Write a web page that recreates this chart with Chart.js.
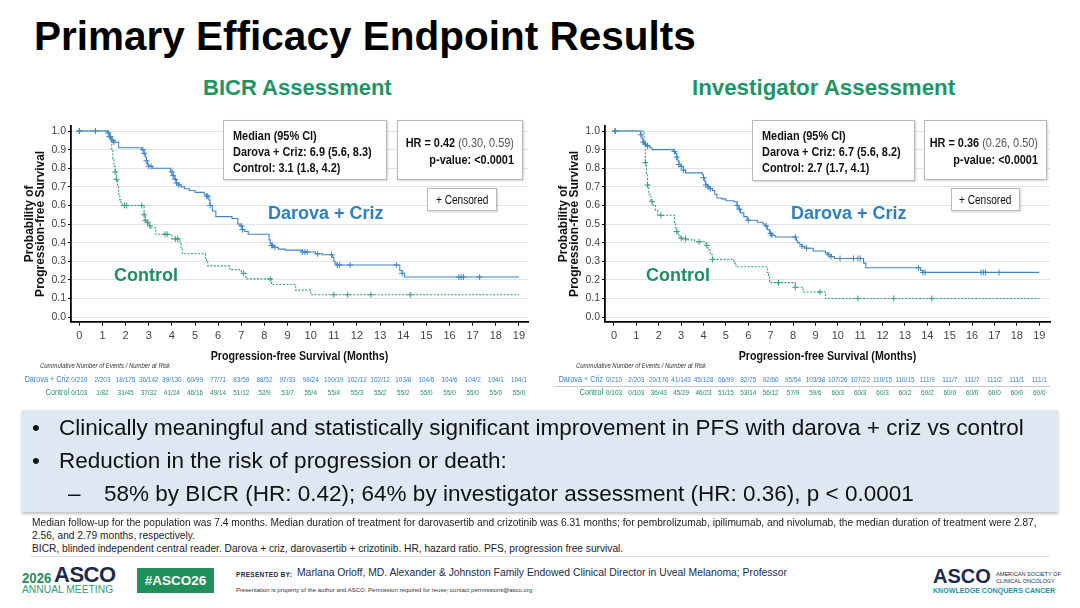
<!DOCTYPE html>
<html>
<head>
<meta charset="utf-8">
<script src="https://cdn.jsdelivr.net/npm/chart.js@4.4.1/dist/chart.umd.min.js"></script>
<style>
  html, body { margin: 0; padding: 0; }
  body { width: 1080px; height: 608px; position: relative; overflow: hidden; background: #fff; font-family: "Liberation Sans", Arial, sans-serif; }
  .abs { position: absolute; white-space: nowrap; }
  .title { left: 34px; top: 13px; font-size: 40.5px; font-weight: bold; color: #000; }
  .sub { top: 75px; font-size: 22px; font-weight: bold; color: #1f9466; }
  .box { position: absolute; background: #fff; border: 1px solid #b9b9b9; box-shadow: 1px 1px 2px rgba(0,0,0,0.18); font-size: 13px; color: #111; box-sizing: border-box; white-space: nowrap; }
  .nar { display: inline-block; transform: scaleX(0.84); transform-origin: left top; }
  .med { padding: 7px 0 0 9px; line-height: 16px; font-weight: bold; }
  .hr { line-height: 17px; font-weight: bold; }
  .hr .nar { position: absolute; right: 8px; top: 13px; text-align: right; transform-origin: right top; }
  .hr span.rg { font-weight: normal; color: #555; }
  .cens { text-align: center; line-height: 22px; font-size: 12px; }
  .cens .nar { transform-origin: center top; }
  .lblB { font-size: 18px; font-weight: bold; color: #2f7fc1; }
  .lblG { font-size: 18px; font-weight: bold; color: #1f8f5f; }
  canvas { position: absolute; }
  .bullets { left: 22px; top: 410px; width: 1036px; height: 102px; background: #dde8f3; box-shadow: 0 2px 3px rgba(0,0,0,0.25); }
  .bl { position: absolute; font-size: 22.5px; color: #111; white-space: nowrap; }
  .foot { font-size: 10.2px; color: #222; left: 32px; }
  .rule { position: absolute; left: 30px; width: 1020px; top: 556px; height: 1px; background: #ddd; }
</style>
</head>
<body>
<div class="abs title">Primary Efficacy Endpoint Results</div>
<div class="abs sub" style="left:203px">BICR Assessment</div>
<div class="abs sub" style="left:692px;font-size:22.3px">Investigator Assessment</div>

<canvas id="bicr" width="540" height="300" style="left:0;top:110px"></canvas>
<canvas id="inv" width="540" height="300" style="left:540px;top:110px"></canvas>

<!-- BICR overlays -->
<div class="box med" style="left:223px;top:120px;width:164px;height:60px"><span class="nar">Median (95% CI)<br>Darova + Criz: 6.9 (5.6, 8.3)<br>Control: 3.1 (1.8, 4.2)</span></div>
<div class="box hr" style="left:397px;top:120px;width:126px;height:60px"><span class="nar">HR = 0.42 <span class="rg">(0.30, 0.59)</span><br>p-value: &lt;0.0001</span></div>
<div class="box cens" style="left:427px;top:188px;width:70px;height:23px"><span class="nar">+ Censored</span></div>
<div class="abs lblB" style="left:268px;top:203px">Darova + Criz</div>
<div class="abs lblG" style="left:114px;top:265px">Control</div>

<!-- Investigator overlays -->
<div class="box med" style="left:752px;top:120px;width:163px;height:61px"><span class="nar">Median (95% CI)<br>Darova + Criz: 6.7 (5.6, 8.2)<br>Control: 2.7 (1.7, 4.1)</span></div>
<div class="box hr" style="left:924px;top:120px;width:123px;height:60px"><span class="nar">HR = 0.36 <span class="rg">(0.26, 0.50)</span><br>p-value: &lt;0.0001</span></div>
<div class="box cens" style="left:951px;top:188px;width:69px;height:23px"><span class="nar">+ Censored</span></div>
<div class="abs lblB" style="left:791px;top:203px">Darova + Criz</div>
<div class="abs lblG" style="left:646px;top:265px">Control</div>

<div class="abs bullets">
  <div class="bl" style="left:10px;top:5px">•</div>
  <div class="bl" style="left:37px;top:5px">Clinically meaningful and statistically significant improvement in PFS with darova + criz vs control</div>
  <div class="bl" style="left:10px;top:38px">•</div>
  <div class="bl" style="left:37px;top:38px">Reduction in the risk of progression or death:</div>
  <div class="bl" style="left:46px;top:71px">–</div>
  <div class="bl" style="left:82px;top:71px">58% by BICR (HR: 0.42); 64% by investigator assessment (HR: 0.36), p &lt; 0.0001</div>
</div>

<div class="abs foot" style="top:517px">Median follow-up for the population was 7.4 months. Median duration of treatment for darovasertib and crizotinib was 6.31 months; for pembrolizumab, ipilimumab, and nivolumab, the median duration of treatment were 2.87,</div>
<div class="abs foot" style="top:530px">2.56, and 2.79 months, respectively.</div>
<div class="abs foot" style="top:543px">BICR, blinded independent central reader. Darova + criz, darovasertib + crizotinib. HR, hazard ratio. PFS, progression free survival.</div>
<div class="rule"></div>

<!-- footer -->
<div class="abs" style="left:22px;top:569px;font-size:15px;font-weight:bold;color:#2a8c66"><span class="nar" style="transform:scaleX(0.88)">2026</span></div>
<div class="abs" style="left:54px;top:562px;font-size:22px;font-weight:bold;color:#1c2b4b;letter-spacing:-0.5px">ASCO</div>
<div class="abs" style="left:22px;top:584px;font-size:10.3px;color:#3a9a75">ANNUAL MEETING</div>
<div class="abs" style="left:137px;top:568px;width:77px;height:25px;background:#1f8f5c;color:#fff;font-weight:bold;font-size:13.5px;line-height:25px;text-align:center">#ASCO26</div>
<div class="abs" style="left:236px;top:571px;font-size:6.5px;font-weight:bold;color:#1c2b4b;letter-spacing:0.3px">PRESENTED BY:</div>
<div class="abs" style="left:297px;top:566px;font-size:11.5px;color:#1c2b4b"><span class="nar" style="transform:scaleX(0.9)">Marlana Orloff, MD. Alexander &amp; Johnston Family Endowed Clinical Director in Uveal Melanoma; Professor</span></div>
<div class="abs" style="left:236px;top:587px;font-size:6px;color:#333">Presentation is property of the author and ASCO. Permission required for reuse; contact permissions@asco.org</div>
<div class="abs" style="left:933px;top:565px;font-size:20px;font-weight:bold;color:#1c2b4b">ASCO</div>
<div class="abs" style="left:996px;top:571px;font-size:5.6px;line-height:6.5px;color:#1c2b4b">AMERICAN SOCIETY OF<br>CLINICAL ONCOLOGY</div>
<div class="abs" style="left:933px;top:587px;font-size:7.1px;font-weight:bold;color:#2b8ea8">KNOWLEDGE CONQUERS CANCER</div>

<script>
// ---- data ----
const xTicks = [0, 1, 2, 3, 4, 5, 6, 7, 8, 9, 10, 11, 12, 13, 14, 15, 16, 17, 18, 19];
const yTicks = [0, 0.1, 0.2, 0.3, 0.4, 0.5, 0.6, 0.7, 0.8, 0.9, 1.0];

// BICR assessment
const bicrDarT = [0, 1.2, 1.3, 1.4, 1.5, 1.7, 2.7, 2.8, 2.85, 2.9, 2.95, 3.0, 3.15, 3.95, 4.05, 4.1, 4.2, 4.3, 4.4, 4.55, 4.75, 5.0, 5.4, 5.5, 5.6, 5.65, 5.75, 5.9, 6.6, 6.85, 6.95, 7.05, 7.15, 7.3, 8.2, 8.25, 8.3, 8.4, 8.6, 8.9, 9.6, 10.2, 10.5, 10.95, 11.0, 11.05, 11.1, 13.85, 13.95, 14.05, 19];
const bicrDarS = [1, 0.99, 0.97, 0.95, 0.94, 0.91, 0.90, 0.88, 0.86, 0.84, 0.82, 0.81, 0.80, 0.78, 0.76, 0.74, 0.72, 0.71, 0.70, 0.69, 0.68, 0.67, 0.66, 0.65, 0.63, 0.60, 0.57, 0.54, 0.53, 0.50, 0.49, 0.47, 0.46, 0.445, 0.415, 0.395, 0.385, 0.375, 0.365, 0.36, 0.35, 0.34, 0.335, 0.32, 0.30, 0.29, 0.28, 0.25, 0.235, 0.215, 0.215];
const bicrCtlT = [0, 1.3, 1.4, 1.45, 1.5, 1.55, 1.6, 1.65, 1.7, 1.75, 1.8, 1.85, 2.8, 2.85, 2.9, 3.0, 3.1, 3.3, 4.0, 4.35, 4.4, 4.45, 5.45, 5.5, 5.55, 6.5, 7.0, 7.2, 8.3, 9.35, 10.0, 19];
const bicrCtlS = [1, 0.96, 0.90, 0.85, 0.81, 0.78, 0.74, 0.70, 0.66, 0.63, 0.61, 0.60, 0.55, 0.52, 0.51, 0.49, 0.48, 0.445, 0.42, 0.40, 0.37, 0.34, 0.31, 0.295, 0.275, 0.255, 0.235, 0.205, 0.175, 0.145, 0.12, 0.12];
const bicrDarCens = [0, 0.7, 1.25, 1.3, 1.35, 1.45, 1.5, 2.75, 2.8, 2.9, 3.0, 3.1, 4.0, 4.05, 4.15, 4.2, 4.3, 5.5, 5.55, 5.65, 7.0, 7.05, 8.3, 8.35, 8.45, 9.65, 9.75, 9.85, 10.3, 10.9, 11.15, 11.25, 11.7, 13.7, 13.95, 16.4, 16.5, 16.6, 17.3];
const bicrCtlCens = [0, 1.55, 1.6, 1.95, 2.05, 2.7, 2.8, 2.85, 2.95, 3.05, 3.7, 3.8, 4.15, 4.25, 7.1, 8.25, 11.0, 11.6, 12.6, 14.3];
const bicrRiskDar = ['0/210', '2/203', '18/175', '36/142', '39/130', '60/99', '77/71', '83/59', '88/52', '97/33', '98/24', '100/19', '102/12', '102/12', '103/8', '104/6', '104/6', '104/2', '104/1', '104/1'];
const bicrRiskCtl = ['0/103', '1/82', '31/45', '37/32', '41/24', '46/16', '49/14', '51/12', '52/9', '53/7', '55/4', '55/4', '55/3', '55/2', '55/2', '55/0', '55/0', '55/0', '55/0', '55/0'];

// Investigator assessment
const invDarT = [0, 1.2, 1.25, 1.3, 1.35, 1.45, 1.6, 1.7, 2.65, 2.75, 2.8, 2.85, 2.9, 3.0, 3.1, 3.2, 3.95, 4.0, 4.05, 4.1, 4.2, 4.3, 4.4, 4.5, 4.6, 4.8, 5.0, 5.35, 5.5, 5.55, 5.65, 5.8, 5.95, 6.4, 6.65, 6.75, 6.85, 6.95, 7.05, 7.2, 8.15, 8.2, 8.3, 8.4, 8.5, 8.6, 8.9, 9.45, 9.55, 9.7, 9.85, 11.15, 11.25, 13.7, 13.8, 19];
const invDarS = [1, 0.98, 0.96, 0.94, 0.93, 0.92, 0.91, 0.90, 0.89, 0.88, 0.86, 0.84, 0.82, 0.81, 0.79, 0.775, 0.765, 0.75, 0.73, 0.71, 0.70, 0.69, 0.68, 0.66, 0.64, 0.635, 0.625, 0.62, 0.60, 0.58, 0.56, 0.54, 0.52, 0.51, 0.50, 0.49, 0.47, 0.45, 0.44, 0.43, 0.41, 0.40, 0.39, 0.38, 0.375, 0.37, 0.355, 0.345, 0.335, 0.325, 0.315, 0.29, 0.265, 0.25, 0.24, 0.24];
const invCtlT = [0, 1.35, 1.4, 1.45, 1.5, 1.55, 1.65, 1.75, 1.85, 1.95, 2.7, 2.75, 2.8, 2.85, 2.9, 2.95, 3.05, 3.3, 3.6, 4.1, 4.2, 4.3, 4.4, 5.35, 5.45, 6.85, 6.9, 6.95, 8.1, 8.45, 9.45, 19];
const invCtlS = [1, 0.93, 0.83, 0.77, 0.71, 0.66, 0.62, 0.60, 0.575, 0.547, 0.50, 0.48, 0.46, 0.445, 0.435, 0.425, 0.42, 0.415, 0.405, 0.385, 0.36, 0.335, 0.31, 0.29, 0.27, 0.24, 0.215, 0.185, 0.16, 0.135, 0.10, 0.10];
const invDarCens = [0.05, 1.2, 1.3, 1.4, 1.5, 2.7, 2.8, 2.9, 3.0, 3.1, 4.0, 4.1, 4.2, 4.3, 5.5, 5.6, 6.0, 6.8, 7.0, 7.05, 8.1, 8.4, 8.6, 9.6, 9.7, 10.1, 10.7, 10.9, 11.0, 13.6, 13.8, 13.9, 16.4, 16.5, 16.6, 17.2];
const invCtlCens = [0.05, 1.4, 1.5, 1.7, 2.1, 2.8, 3.0, 3.2, 3.8, 4.15, 4.4, 7.35, 8.1, 9.2, 10.9, 12.5, 14.2];
const invRiskDar = ['0/210', '2/203', '20/176', '41/143', '45/128', '66/99', '82/75', '92/60', '95/54', '103/38', '107/26', '107/22', '110/15', '110/15', '111/9', '111/7', '111/7', '111/2', '111/1', '111/1'];
const invRiskCtl = ['0/103', '0/103', '36/43', '45/29', '46/23', '51/15', '53/14', '56/12', '57/9', '59/6', '60/3', '60/3', '60/3', '60/2', '60/2', '60/0', '60/0', '60/0', '60/0', '60/0'];

const BLUE = '#3f86c8';
const GREEN = '#35a078';

function pts(T, S) { return T.map((t, i) => ({ x: t, y: S[i] })); }
// survival level of a step curve at time t (censor ticks sit on the curve)
function survAt(t, T, S) {
  let s = S[0];
  for (let i = 0; i < T.length; i++) if (T[i] <= t) s = S[i];
  return s;
}
function cens(C, T, S) { return C.map(t => ({ x: t, y: survAt(t, T, S) })); }

// condensed text: Arial-like font squeezed horizontally
function narText(ctx, txt, x, y, sx) {
  ctx.save();
  ctx.translate(x, y);
  ctx.scale(sx, 1);
  ctx.fillText(txt, 0, 0);
  ctx.restore();
}

// x-axis title + number-at-risk table, columns on the x scale
const riskTable = {
  id: 'riskTable',
  afterDraw(chart, args, o) {
    const { ctx, chartArea } = chart;
    const x = chart.scales.x;
    ctx.save();
    ctx.textBaseline = 'middle';

    ctx.fillStyle = '#111';
    ctx.textAlign = 'center';
    ctx.font = 'bold 13px "Liberation Sans"';
    narText(ctx, 'Progression-free Survival (Months)', (chartArea.left + chartArea.right) / 2, 246.5, 0.82);

    ctx.font = 'italic 7px "Liberation Sans"';
    ctx.fillStyle = '#333';
    ctx.textAlign = 'left';
    narText(ctx, 'Cummulative Number of Events / Number at Risk', o.headX, 256, 0.85);
    if (o.sepLine) {
      ctx.strokeStyle = '#c8c8c8';
      ctx.lineWidth = 1;
      ctx.beginPath();
      ctx.moveTo(o.sepLine[0], 276.5);
      ctx.lineTo(o.sepLine[1], 276.5);
      ctx.stroke();
    }
    o.rows.forEach(row => {
      ctx.fillStyle = row.color;
      ctx.font = '8.5px "Liberation Sans"';
      ctx.textAlign = 'right';
      narText(ctx, row.label, o.labelX, row.y, 0.85);
      ctx.font = '8px "Liberation Sans"';
      ctx.textAlign = 'center';
      row.values.forEach((v, i) => narText(ctx, v, x.getPixelForValue(xTicks[i]), row.y, 0.8));
    });
    ctx.restore();
  }
};

function kmChart(id, c) {
  return new Chart(document.getElementById(id), {
    type: 'line',
    data: {
      datasets: [
        { data: pts(c.darT, c.darS), borderColor: BLUE, borderWidth: 1.1, stepped: true, pointRadius: 0, fill: false },
        { data: pts(c.ctlT, c.ctlS), borderColor: GREEN, borderWidth: 1.1, borderDash: [2, 1.5], stepped: true, pointRadius: 0, fill: false },
        { data: cens(c.darCens, c.darT, c.darS), showLine: false, pointStyle: 'cross', pointRadius: 3, borderColor: BLUE, pointBorderWidth: 1 },
        { data: cens(c.ctlCens, c.ctlT, c.ctlS), showLine: false, pointStyle: 'cross', pointRadius: 3, borderColor: GREEN, pointBorderWidth: 1 }
      ]
    },
    options: {
      responsive: false,
      animation: false,
      events: [],
      layout: { autoPadding: false, padding: { left: c.padL, right: c.padR, top: 16, bottom: 40.3 } },
      plugins: {
        legend: { display: false },
        tooltip: { enabled: false },
        riskTable: c.risk
      },
      scales: {
        x: {
          type: 'linear',
          min: c.xMin, max: c.xMax,
          afterBuildTicks: s => { s.ticks = xTicks.map(v => ({ value: v })); },
          afterFit: s => { s.height = 48; },
          grid: { drawOnChartArea: false, tickLength: 4, color: '#000', tickColor: '#000', lineWidth: 1 },
          border: { display: true, color: '#000', width: 1.8 },
          ticks: { autoSkip: false, maxRotation: 0, padding: 4, color: '#444', font: { family: 'Liberation Sans', size: 11 } }
        },
        y: {
          min: -0.025, max: 1.027,
          afterBuildTicks: s => { s.ticks = yTicks.map(v => ({ value: v })); },
          afterFit: s => { s.width = 57; },
          grid: { color: '#e3e3e3', tickColor: '#000', tickLength: 3, lineWidth: 1 },
          border: { display: true, color: '#000', width: 1.8 },
          ticks: { padding: 2, color: '#444', font: { family: 'Liberation Sans', size: 10.5 }, callback: v => v.toFixed(1) },
          title: { display: true, text: ['Probability of', 'Progression-free Survival'], color: '#111', padding: { top: 9.5, bottom: 0 },
                   font: { family: 'Liberation Sans', weight: 'bold', size: 12, lineHeight: 0.95 } }
        }
      }
    },
    plugins: [riskTable]
  });
}

kmChart('bicr', {
  darT: bicrDarT, darS: bicrDarS, ctlT: bicrCtlT, ctlS: bicrCtlS,
  darCens: bicrDarCens, ctlCens: bicrCtlCens,
  padL: 14, padR: 12, xMin: -0.359, xMax: 19.39,
  risk: {
    headX: 40, labelX: 69, sepLine: null,
    rows: [
      { label: 'Darova + Criz', color: '#3b82c4', y: 270, values: bicrRiskDar },
      { label: 'Control', color: '#1f8f64', y: 283, values: bicrRiskCtl }
    ]
  }
});

kmChart('inv', {
  darT: invDarT, darS: invDarS, ctlT: invCtlT, ctlS: invCtlS,
  darCens: invDarCens, ctlCens: invCtlCens,
  padL: 8, padR: 30, xMin: -0.402, xMax: 19.48,
  risk: {
    headX: 36, labelX: 63, sepLine: [15, 510],
    rows: [
      { label: 'Darova + Criz', color: '#3b82c4', y: 270, values: invRiskDar },
      { label: 'Control', color: '#1f8f64', y: 283, values: invRiskCtl }
    ]
  }
});
</script>
</body>
</html>
